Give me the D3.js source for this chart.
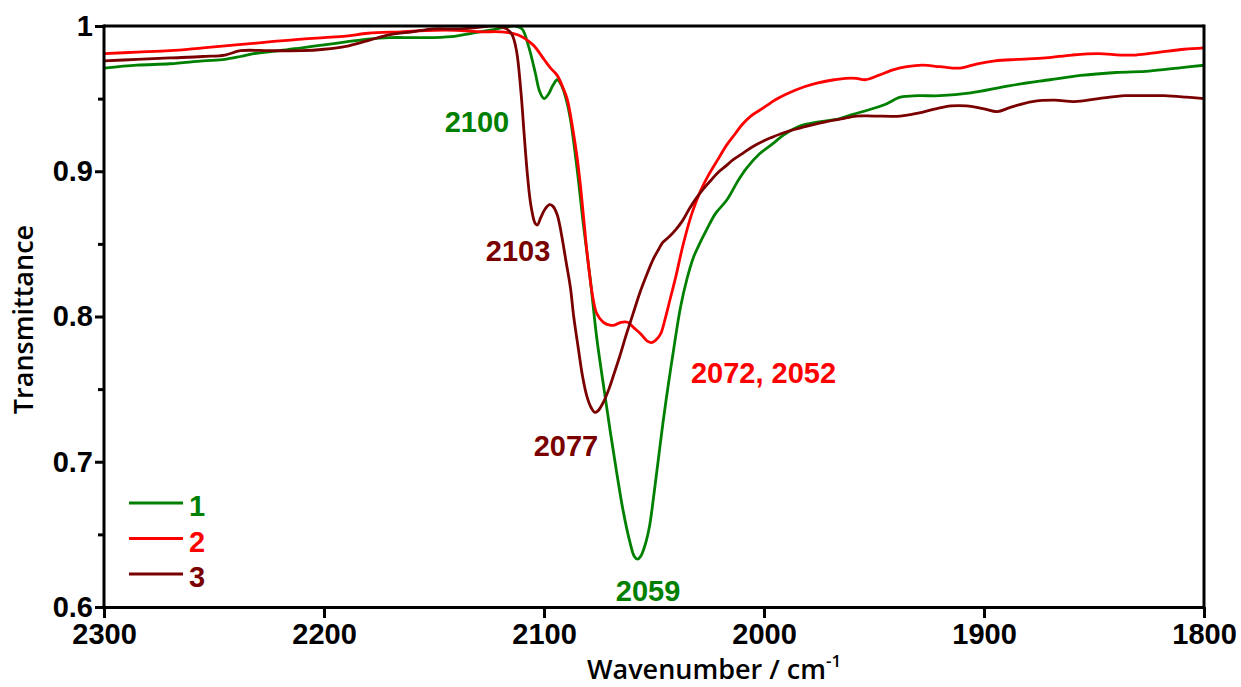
<!DOCTYPE html>
<html>
<head>
<meta charset="utf-8">
<script src="https://cdn.jsdelivr.net/npm/d3@7"></script>
<style>
  body { margin: 0; background: #fff; }
  svg { display: block; }
</style>
</head>
<body>
<svg id="chart" width="1241" height="687"></svg>
<script>
// Axis ticks
const wavenumberTicks = [2300, 2200, 2100, 2000, 1900, 1800];
const transmittanceTicks = [0.6, 0.7, 0.8, 0.9, 1];
const transmittanceMinorTicks = [0.65, 0.75, 0.85, 0.95];

// Legend
const seriesNames = ["1", "2", "3"];
const seriesColors = ["#008000", "#ff0000", "#7a0000"];

// Spectrum 1
const wn1 = [2300, 2285, 2270, 2255, 2245, 2238, 2232, 2220, 2210, 2200, 2190, 2180, 2170, 2160, 2150, 2140, 2133, 2125, 2118, 2113,
  2110, 2107, 2104, 2102, 2100, 2098, 2096, 2094, 2092, 2090, 2088, 2085, 2082, 2079, 2076, 2073, 2070, 2067, 2064, 2061,
  2059, 2057.5, 2056, 2054, 2052, 2050, 2048, 2046, 2043.5, 2041, 2038, 2035, 2032, 2029, 2026, 2022, 2017, 2012, 2008, 2002,
  1996, 1991, 1984, 1975, 1966, 1960, 1953, 1945, 1938, 1930, 1920, 1906, 1888, 1870, 1856, 1840, 1825, 1812, 1800];
const t1 = [0.971, 0.973, 0.974, 0.976, 0.977, 0.979, 0.981, 0.983, 0.985, 0.987, 0.989, 0.991, 0.992, 0.992, 0.992, 0.993, 0.995, 0.997, 0.999, 1.000,
  0.998, 0.986, 0.968, 0.955, 0.950, 0.953, 0.959, 0.963, 0.959, 0.950, 0.936, 0.902, 0.862, 0.826, 0.785, 0.753, 0.722, 0.693, 0.666, 0.645,
  0.635, 0.633, 0.635, 0.643, 0.656, 0.678, 0.702, 0.726, 0.753, 0.778, 0.806, 0.826, 0.841, 0.851, 0.860, 0.871, 0.880, 0.893, 0.902, 0.912,
  0.919, 0.925, 0.931, 0.934, 0.936, 0.939, 0.942, 0.946, 0.951, 0.952, 0.952, 0.954, 0.959, 0.963, 0.966, 0.968, 0.969, 0.971, 0.973];

// Spectrum 2
const wn2 = [2300, 2285, 2270, 2255, 2240, 2225, 2210, 2200, 2190, 2180, 2165, 2150, 2140, 2128, 2120, 2112, 2105, 2100, 2097, 2094,
  2091.5, 2089.5, 2087, 2085, 2083.5, 2082, 2080.5, 2078, 2076, 2073, 2070, 2068, 2065, 2062, 2059, 2056, 2053, 2051, 2049, 2047,
  2045, 2043, 2040, 2037, 2033, 2029, 2025, 2021, 2017, 2013, 2010, 2006, 2002, 1999, 1995, 1990, 1982, 1975, 1968, 1963,
  1958, 1954, 1948, 1941, 1935, 1928, 1920, 1911, 1903, 1895, 1885, 1872, 1860, 1848, 1838, 1831, 1820, 1809, 1800];
const t2 = [0.981, 0.982, 0.983, 0.985, 0.987, 0.989, 0.991, 0.992, 0.993, 0.995, 0.996, 0.997, 0.997, 0.996, 0.996, 0.994, 0.987, 0.977, 0.971, 0.966,
  0.958, 0.950, 0.930, 0.910, 0.891, 0.868, 0.845, 0.815, 0.802, 0.796, 0.794, 0.794, 0.796, 0.796, 0.792, 0.788, 0.783, 0.782, 0.784, 0.788,
  0.798, 0.810, 0.828, 0.848, 0.870, 0.886, 0.898, 0.908, 0.918, 0.926, 0.932, 0.938, 0.942, 0.945, 0.949, 0.953, 0.958, 0.961, 0.963, 0.964,
  0.964, 0.963, 0.966, 0.970, 0.972, 0.973, 0.972, 0.971, 0.974, 0.976, 0.977, 0.978, 0.980, 0.981, 0.980, 0.980, 0.982, 0.984, 0.985];

// Spectrum 3
const wn3 = [2300, 2285, 2270, 2255, 2245, 2238, 2225, 2210, 2200, 2190, 2180, 2170, 2160, 2150, 2140, 2130, 2122, 2117, 2114.5, 2112.5,
  2110.5, 2109, 2107.5, 2106, 2104, 2103, 2101.5, 2099.5, 2097.5, 2096, 2094, 2092, 2090, 2088, 2086.5, 2084.5, 2082.5, 2080.5, 2078.5, 2077,
  2075.5, 2073, 2070.5, 2068.5, 2065.5, 2062.5, 2059.5, 2056.5, 2053.5, 2050.5, 2048, 2046, 2043, 2040, 2037, 2034, 2031, 2028, 2024, 2021,
  2017, 2014, 2010, 2005, 2000, 1997, 1992, 1988, 1983, 1978, 1972, 1965, 1958, 1950, 1938, 1930, 1922, 1915, 1908, 1900,
  1894, 1888, 1878, 1868, 1859, 1848, 1836, 1826, 1818, 1808, 1800];
const t3 = [0.976, 0.977, 0.978, 0.979, 0.980, 0.983, 0.983, 0.983, 0.984, 0.986, 0.990, 0.994, 0.996, 0.998, 0.998, 0.999, 1.000, 0.998, 0.994, 0.983,
  0.955, 0.925, 0.897, 0.877, 0.864, 0.863, 0.868, 0.874, 0.877, 0.876, 0.870, 0.856, 0.838, 0.820, 0.800, 0.779, 0.759, 0.745, 0.737, 0.734,
  0.735, 0.741, 0.750, 0.759, 0.773, 0.788, 0.802, 0.816, 0.828, 0.839, 0.846, 0.851, 0.855, 0.860, 0.866, 0.874, 0.881, 0.887, 0.894, 0.899,
  0.904, 0.908, 0.912, 0.917, 0.921, 0.923, 0.926, 0.928, 0.930, 0.932, 0.934, 0.936, 0.938, 0.938, 0.938, 0.940, 0.943, 0.945, 0.945, 0.943,
  0.941, 0.944, 0.948, 0.949, 0.948, 0.950, 0.952, 0.952, 0.952, 0.951, 0.950];

// Peak annotations: text, series index, anchor wavenumber / transmittance
const peakTexts = ["2100", "2103", "2077", "2059", "2072, 2052"];
const peakSeries = [0, 2, 2, 0, 1];
const peakWn = [2130.5, 2111.8, 2090, 2052.7, 2033.2];
const peakT = [0.927, 0.838, 0.704, 0.604, 0.754];

const svg = d3.select("#chart");
const margin = { left: 104, right: 1241 - 1204, top: 26, bottom: 687 - 607 };
const W = 1241, H = 687;

const x = d3.scaleLinear().domain([2300, 1800]).range([margin.left, W - margin.right]);
const y = d3.scaleLinear().domain([0.6, 1]).range([H - margin.bottom, margin.top]);

const tickFont = "'Liberation Sans', Arial, sans-serif";
const titleFont = "'Open Sans', sans-serif";
const boldSize = 29;

svg.append("defs").append("clipPath").attr("id", "plot-clip")
  .append("rect")
  .attr("x", margin.left).attr("y", margin.top - 1)
  .attr("width", x(1800) - x(2300)).attr("height", y(0.6) - y(1) + 1);

// Spectra
const spectra = [[wn1, t1], [wn2, t2], [wn3, t3]];
const line = d3.line()
  .x(d => x(d[0]))
  .y(d => y(d[1]))
  .curve(d3.curveCatmullRom.alpha(0.5));

const plot = svg.append("g").attr("clip-path", "url(#plot-clip)");
spectra.forEach(([wn, t], i) => {
  plot.append("path")
    .datum(wn.map((w, k) => [w, t[k]]))
    .attr("fill", "none")
    .attr("stroke", seriesColors[i])
    .attr("stroke-width", 2.8)
    .attr("stroke-linejoin", "round")
    .attr("d", line);
});

// Frame (top and right)
svg.append("line")
  .attr("x1", x(2300)).attr("x2", x(1800))
  .attr("y1", y(1)).attr("y2", y(1))
  .attr("stroke", "#000").attr("stroke-width", 3);
svg.append("line")
  .attr("x1", x(1800)).attr("x2", x(1800))
  .attr("y1", y(1) - 1.5).attr("y2", y(0.6))
  .attr("stroke", "#000").attr("stroke-width", 3);

// X axis
const xAxis = svg.append("g")
  .attr("transform", `translate(0,${y(0.6)})`)
  .call(d3.axisBottom(x).tickValues(wavenumberTicks).tickSize(11).tickSizeOuter(0).tickPadding(5).tickFormat(d3.format("d")));
xAxis.select(".domain").attr("stroke-width", 3);
xAxis.selectAll(".tick line").attr("stroke-width", 3);
xAxis.selectAll(".tick text")
  .attr("font-family", tickFont).attr("font-weight", "bold").attr("font-size", boldSize).attr("fill", "#000");

// Y axis (minor ticks first, then major)
const yMinor = svg.append("g")
  .attr("transform", `translate(${x(2300)},0)`)
  .call(d3.axisLeft(y).tickValues(transmittanceMinorTicks).tickSize(6).tickSizeOuter(0).tickFormat(""));
yMinor.select(".domain").remove();
yMinor.selectAll(".tick line").attr("stroke-width", 3);

const yAxis = svg.append("g")
  .attr("transform", `translate(${x(2300)},0)`)
  .call(d3.axisLeft(y).tickValues(transmittanceTicks).tickSize(9).tickSizeOuter(0).tickPadding(2)
    .tickFormat(d => d === 1 ? "1" : d.toFixed(1)));
yAxis.select(".domain").attr("stroke-width", 3)
  .attr("d", `M0,${y(0.6) + 1.5}V${y(1) - 1.5}`);
yAxis.selectAll(".tick line").attr("stroke-width", 3);
yAxis.selectAll(".tick text")
  .attr("font-family", tickFont).attr("font-weight", "bold").attr("font-size", boldSize).attr("fill", "#000");

// Axis titles
const xTitle = svg.append("text")
  .attr("x", 587).attr("y", 679)
  .attr("font-family", titleFont).attr("font-weight", 600).attr("font-size", 27).attr("fill", "#000")
  .text("Wavenumber / cm");
xTitle.append("tspan").attr("dy", -12).attr("font-size", 17).text("-1");

svg.append("text")
  .attr("transform", `translate(33,${(y(1) + y(0.6)) / 2 + 3}) rotate(-90)`)
  .attr("text-anchor", "middle")
  .attr("font-family", titleFont).attr("font-weight", 600).attr("font-size", 27).attr("fill", "#000")
  .text("Transmittance");

// Peak labels
peakTexts.forEach((txt, i) => {
  svg.append("text")
    .attr("x", x(peakWn[i])).attr("y", y(peakT[i]))
    .attr("text-anchor", txt.includes(",") ? "start" : "middle")
    .attr("font-family", tickFont).attr("font-weight", "bold").attr("font-size", boldSize)
    .attr("fill", seriesColors[peakSeries[i]])
    .text(txt);
});

// Legend
const legend = svg.append("g").attr("transform", "translate(129,503)");
seriesNames.forEach((name, i) => {
  const g = legend.append("g").attr("transform", `translate(0,${i * 35.5})`);
  g.append("line").attr("x1", 0).attr("x2", 54).attr("y1", 0).attr("y2", 0)
    .attr("stroke", seriesColors[i]).attr("stroke-width", 3);
  g.append("text").attr("x", 60).attr("y", 13)
    .attr("font-family", tickFont).attr("font-weight", "bold").attr("font-size", boldSize)
    .attr("fill", seriesColors[i]).text(name);
});
</script>
</body>
</html>
